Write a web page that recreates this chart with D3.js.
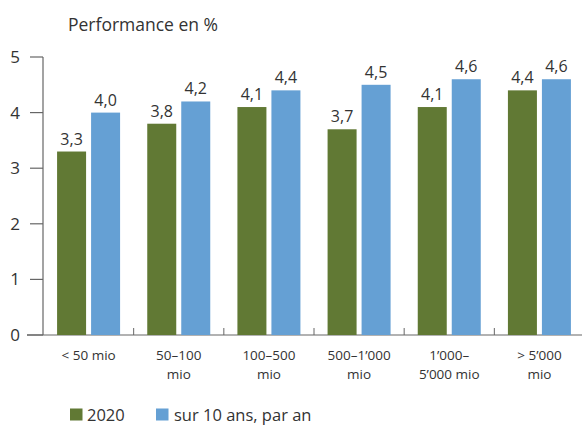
<!DOCTYPE html>
<html><head><meta charset="utf-8">
<script src="https://cdn.jsdelivr.net/npm/d3@7/dist/d3.min.js"></script>
<style>
body{margin:0;background:#fff;}
text{font-family:"Open Sans",sans-serif;fill:#333;}
</style></head>
<body><svg id="c" width="582" height="425"></svg>
<script>
const categories = [["< 50 mio"],["50–100","mio"],["100–500","mio"],["500–1’000","mio"],["1’000–","5’000 mio"],["> 5’000","mio"]];
const values2020 = [3.3,3.8,4.1,3.7,4.1,4.4];
const values10y = [4.0,4.2,4.4,4.5,4.6,4.6];
const yTicks = [0,1,2,3,4,5];
const seriesNames = ["2020","sur 10 ans, par an"];
const colors = ["#617934","#65a0d4"];

const svg = d3.select("#c");
const x = d3.scaleBand().domain(d3.range(categories.length)).range([43.5,584.5]).padding(0);
const y = d3.scaleLinear().domain([0,5]).range([335,57]);
const barW = 29, gap = 5;
const fmt = v => d3.format(".1f")(v).replace(".",",");

// y axis
svg.append("line").attr("x1",43).attr("x2",43).attr("y1",y(5)).attr("y2",y(0)).attr("stroke","#666").attr("stroke-width",1.2);
yTicks.forEach(t=>{
  svg.append("line").attr("x1",t===0?27:30).attr("x2",43).attr("y1",y(t)).attr("y2",y(t)).attr("stroke","#666").attr("stroke-width",1.2);
  svg.append("text").attr("x",15).attr("y",y(t)+6).attr("text-anchor","middle").attr("font-size",17).text(t);
});
// x axis
svg.append("line").attr("x1",27).attr("x2",582).attr("y1",y(0)).attr("y2",y(0)).attr("stroke","#666").attr("stroke-width",1.2);
d3.range(1,categories.length).forEach(i=>{
  svg.append("line").attr("x1",x(i)).attr("x2",x(i)).attr("y1",y(0)).attr("y2",y(0)-7).attr("stroke","#666").attr("stroke-width",1);
});

const series = [values2020, values10y];
series.forEach((vals,s)=>{
  const g = svg.append("g");
  g.selectAll("rect").data(vals).join("rect")
    .attr("x",(d,i)=> x(i)+x.bandwidth()/2 + (s===0 ? -gap/2-barW : gap/2))
    .attr("y",d=>y(d)).attr("width",barW).attr("height",d=>y(0)-y(d)).attr("fill",colors[s]);
  g.selectAll("text").data(vals).join("text")
    .attr("x",(d,i)=> x(i)+x.bandwidth()/2 + (s===0 ? -gap/2-barW/2 : gap/2+barW/2))
    .attr("y",d=>y(d)-7).attr("text-anchor","middle").attr("font-size",16).text(fmt);
});

// category labels
categories.forEach((lines,i)=>{
  const t = svg.append("text").attr("text-anchor","middle").attr("font-size",13.5);
  lines.forEach((l,k)=>{
    t.append("tspan").attr("x",x(i)+x.bandwidth()/2).attr("y",360+k*18.5).text(l);
  });
});

// title
svg.append("text").attr("x",68).attr("y",31).attr("font-size",17.5).text("Performance en %");

// legend
const leg = [{x:70,w:12.5,tx:87},{x:156,w:12.5,tx:174}];
leg.forEach((L,i)=>{
  svg.append("rect").attr("x",L.x).attr("y",408.5).attr("width",L.w).attr("height",12).attr("fill",colors[i]);
  svg.append("text").attr("x",L.tx).attr("y",420.5).attr("font-size",16.5).text(seriesNames[i]);
});
</script></body></html>
